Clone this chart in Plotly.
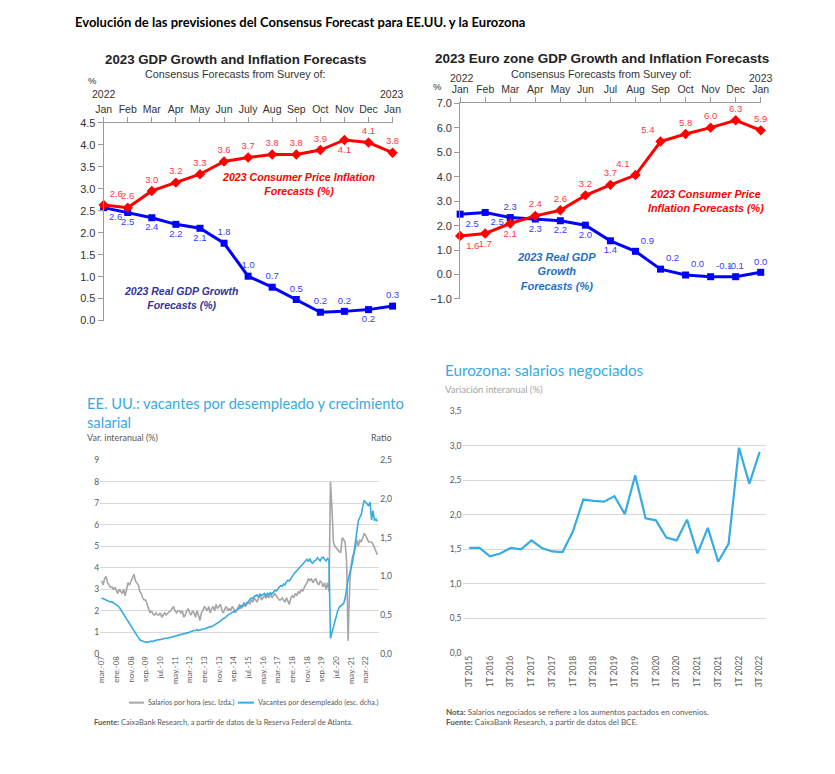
import plotly.graph_objects as go

W, H = 835, 774
# empirical correction of the screenshot geometry (rendered = A + B * figure coordinate)
AX, BX = 7.0, 0.980
AY, BY = 4.6, 0.987
def px(x): return ((x - AX) / BX) / W
def py(y): return 1 - ((y - AY) / BY) / H

# ---------------- Panel 1: US Consensus forecasts ----------------
months = ["Jan", "Feb", "Mar", "Apr", "May", "Jun", "July", "Aug", "Sep", "Oct", "Nov", "Dec", "Jan"]
us_cpi = [2.63, 2.57, 2.95, 3.14, 3.33, 3.62, 3.71, 3.78, 3.78, 3.88, 4.11, 4.05, 3.82]
us_cpi_lbl = ["2.6", "2.6", "3.0", "3.2", "3.3", "3.6", "3.7", "3.8", "3.8", "3.9", "4.1", "4.1", "3.8"]
us_gdp = [2.57, 2.46, 2.34, 2.19, 2.10, 1.76, 1.01, 0.76, 0.48, 0.19, 0.21, 0.25, 0.33]
us_gdp_lbl = ["2.6", "2.5", "2.4", "2.2", "2.1", "1.8", "1.0", "0.7", "0.5", "0.2", "0.2", "0.2", "0.3"]

# ---------------- Panel 2: Euro zone Consensus forecasts ----------------
months_ez = ["Jan", "Feb", "Mar", "Apr", "May", "Jun", "Jul", "Aug", "Sep", "Oct", "Nov", "Dec", "Jan"]
ez_cpi = [1.58, 1.68, 2.09, 2.40, 2.63, 3.24, 3.67, 4.07, 5.44, 5.75, 6.01, 6.31, 5.90]
ez_cpi_lbl = ["1.6", "1.7", "2.1", "2.4", "2.6", "3.2", "3.7", "4.1", "5.4", "5.8", "6.0", "6.3", "5.9"]
ez_gdp = [2.47, 2.54, 2.33, 2.27, 2.20, 2.02, 1.38, 0.95, 0.22, -0.02, -0.09, -0.09, 0.09]
ez_gdp_lbl = ["2.5", "2.5", "2.3", "2.3", "2.2", "2.0", "1.4", "0.9", "0.2", "0.0", "-0.1", "-0.1", "0.0"]

# ---------------- Panel 3: US wages vs vacancies (monthly, mar-07 .. nov-22) ----------------
wages = [
    3.4, 3.2, 3.5, 3.6, 3.3, 3.2, 3.1, 3.1, 3.0, 3.1,
    2.9, 2.8, 3.0, 2.9, 2.8, 3.0, 2.7, 3.0, 3.3, 3.2,
    3.4, 3.6, 3.7, 3.4, 3.3, 3.2, 2.9, 2.8, 2.6, 2.5,
    2.5, 2.3, 2.0, 1.9, 2.0, 1.85, 1.8, 1.9, 1.8, 1.8,
    1.9, 1.7, 1.8, 1.9, 1.8, 1.9, 1.95, 2.0, 2.1, 2.2,
    2.0, 1.9, 2.0, 2.0, 1.9, 2.0, 1.7, 1.8, 2.0, 2.1,
    1.9, 1.8, 2.0, 1.9, 1.7, 2.0, 1.8, 1.55, 1.9, 2.0,
    2.2, 2.1, 2.0, 2.2, 1.9, 2.1, 2.2, 2.0, 2.3, 2.1,
    2.2, 2.3, 2.0, 1.9, 2.1, 2.2, 2.0, 2.1, 2.0, 2.2,
    2.1, 1.9, 2.0, 2.2, 2.3, 2.1, 2.2, 2.4, 2.2, 2.3,
    2.4, 2.3, 2.5, 2.4, 2.6, 2.5, 2.4, 2.6, 2.7, 2.5,
    2.6, 2.7, 2.6, 2.7, 2.6, 2.8, 2.6, 2.7, 2.8, 2.7,
    2.6, 2.5, 2.5, 2.6, 2.5, 2.4, 2.6, 2.4, 2.3, 2.6,
    2.7, 2.6, 2.8, 2.7, 2.9, 2.8, 3.0, 2.9, 3.1, 3.2,
    3.3, 3.5, 3.4, 3.5, 3.3, 3.4, 3.5, 3.3, 3.2, 3.4,
    3.3, 3.1, 3.3, 3.0, 3.3, 2.9,
    8.0, 6.8, 5.2, 5.0, 4.9, 4.8, 4.75, 4.7, 5.4, 5.3,
    5.2, 4.3, 0.6, 3.0, 4.1, 4.5, 4.7, 4.9, 5.3, 5.0,
    5.3, 5.2, 5.4, 5.6, 5.5, 5.3, 5.2, 5.2, 5.2, 5.1,
    4.9, 4.8, 4.6,
]
vacancies = [
    0.72, 0.71, 0.70, 0.69, 0.68, 0.68, 0.67, 0.67, 0.66, 0.65,
    0.64, 0.62, 0.60, 0.57, 0.54, 0.51, 0.47, 0.44, 0.41, 0.38,
    0.35, 0.32, 0.29, 0.26, 0.23, 0.20, 0.18, 0.17, 0.16, 0.15,
    0.15, 0.15, 0.15, 0.16, 0.16, 0.16, 0.17, 0.17, 0.18, 0.18,
    0.18, 0.19, 0.19, 0.20, 0.20, 0.20, 0.21, 0.21, 0.22, 0.22,
    0.23, 0.23, 0.24, 0.24, 0.25, 0.25, 0.26, 0.26, 0.27, 0.27,
    0.28, 0.29, 0.30, 0.30, 0.30, 0.31, 0.30, 0.31, 0.32, 0.32,
    0.32, 0.33, 0.33, 0.34, 0.35, 0.35, 0.36, 0.37, 0.38, 0.40,
    0.41, 0.42, 0.44, 0.45, 0.47, 0.48, 0.50, 0.51, 0.52, 0.53,
    0.54, 0.55, 0.56, 0.57, 0.59, 0.62, 0.61, 0.64, 0.63, 0.66,
    0.67, 0.70, 0.72, 0.71, 0.74, 0.75, 0.76, 0.73, 0.77, 0.75,
    0.77, 0.78, 0.75, 0.78, 0.76, 0.79, 0.77, 0.80, 0.82, 0.81,
    0.84, 0.86, 0.88, 0.87, 0.90, 0.89, 0.93, 0.95, 0.94, 0.98,
    1.00, 1.03, 1.05, 1.08, 1.10, 1.12, 1.14, 1.16, 1.18, 1.20,
    1.22, 1.19, 1.23, 1.18, 1.17, 1.20, 1.21, 1.24, 1.22, 1.20,
    1.24, 1.25, 1.22, 1.20, 1.23, 1.21,
    0.20, 0.27, 0.35, 0.43, 0.50, 0.56, 0.60, 0.62, 0.63, 0.65,
    0.72, 0.85, 0.95, 1.03, 1.10, 1.18, 1.30, 1.45, 1.58, 1.72,
    1.76, 1.80, 1.90, 1.98, 1.96, 1.93, 1.91, 1.96, 1.73, 1.85,
    1.72, 1.74, 1.71,
]
us_tick_labels = ["mar.-07", "ene.-08", "nov.-08", "sep.-09", "jul.-10", "may.-11", "mar.-12",
                  "ene.-13", "nov.-13", "sep.-14", "jul.-15", "may.-16", "mar.-17", "ene.-18",
                  "nov.-18", "sep.-19", "jul.-20", "may.-21", "mar.-22"]
us_series_names = ["Salarios por hora (esc. Izda.)", "Vacantes por desempleado (esc. dcha.)"]

# ---------------- Panel 4: Euro zone negotiated wages (quarterly) ----------------
quarters = ["3T 2015", "4T 2015", "1T 2016", "2T 2016", "3T 2016", "4T 2016", "1T 2017", "2T 2017",
            "3T 2017", "4T 2017", "1T 2018", "2T 2018", "3T 2018", "4T 2018", "1T 2019", "2T 2019",
            "3T 2019", "4T 2019", "1T 2020", "2T 2020", "3T 2020", "4T 2020", "1T 2021", "2T 2021",
            "3T 2021", "4T 2021", "1T 2022", "2T 2022", "3T 2022"]
ez_wages = [1.52, 1.52, 1.40, 1.44, 1.52, 1.50, 1.63, 1.52, 1.47, 1.46, 1.76, 2.22, 2.20, 2.19,
            2.27, 2.01, 2.57, 1.95, 1.92, 1.67, 1.63, 1.93, 1.44, 1.81, 1.32, 1.58, 2.97, 2.45, 2.91]

ARIAL = "Liberation Sans"
CAL = "Lato"
RED = "#ff0000"
BLUE = "#0000ff"
LBLUE = "#36abe4"
GRAY = "#a6a6a6"

fig = go.Figure()

# ---- panel 1 traces
us_cpi_pos = ["top right"] + ["top center"] * 9 + ["bottom center", "top center", "top center"]
us_gdp_pos = ["bottom right", "bottom center", "bottom center", "bottom center", "bottom center",
              "top center", "top center", "top center", "top center", "top center", "top center",
              "bottom center", "top center"]
fig.add_trace(go.Scatter(x=list(range(13)), y=us_gdp, mode="lines+markers+text", text=us_gdp_lbl,
                         textposition=us_gdp_pos, textfont=dict(family=ARIAL, size=9.5, color="#3a3aff"),
                         line=dict(color=BLUE, width=3), marker=dict(symbol="square", size=7, color=BLUE),
                         cliponaxis=False, showlegend=False, xaxis="x", yaxis="y"))
fig.add_trace(go.Scatter(x=list(range(13)), y=us_cpi, mode="lines+markers+text", text=us_cpi_lbl,
                         textposition=us_cpi_pos, textfont=dict(family=ARIAL, size=9.5, color="#ff3a3a"),
                         line=dict(color=RED, width=3), marker=dict(symbol="diamond", size=8, color=RED),
                         cliponaxis=False, showlegend=False, xaxis="x", yaxis="y"))

# ---- panel 2 traces
ez_cpi_pos = ["bottom right", "bottom center", "bottom center", "top center", "top center", "top center",
              "top center", "top left", "top left", "top center", "top center", "top center", "top center"]
ez_gdp_pos = ["bottom right", "bottom right", "top center", "bottom center", "bottom center", "bottom center",
              "bottom center", "top right", "top right", "top right", "top right", "top center", "top center"]
fig.add_trace(go.Scatter(x=list(range(13)), y=ez_gdp, mode="lines+markers+text", text=ez_gdp_lbl,
                         textposition=ez_gdp_pos, textfont=dict(family=ARIAL, size=9.5, color="#3a3aff"),
                         line=dict(color=BLUE, width=3), marker=dict(symbol="square", size=7, color=BLUE),
                         cliponaxis=False, showlegend=False, xaxis="x2", yaxis="y2"))
fig.add_trace(go.Scatter(x=list(range(13)), y=ez_cpi, mode="lines+markers+text", text=ez_cpi_lbl,
                         textposition=ez_cpi_pos, textfont=dict(family=ARIAL, size=9.5, color="#ff3a3a"),
                         line=dict(color=RED, width=3), marker=dict(symbol="diamond", size=8, color=RED),
                         cliponaxis=False, showlegend=False, xaxis="x2", yaxis="y2"))

# ---- panel 3 traces
fig.add_trace(go.Scatter(x=list(range(len(wages))), y=wages, mode="lines", name=us_series_names[0],
                         line=dict(color=GRAY, width=1.6), showlegend=False, xaxis="x3", yaxis="y3"))
fig.add_trace(go.Scatter(x=list(range(len(vacancies))), y=vacancies, mode="lines", name=us_series_names[1],
                         line=dict(color=LBLUE, width=1.6), showlegend=False, xaxis="x3", yaxis="y4"))

# ---- panel 4 trace
fig.add_trace(go.Scatter(x=list(range(len(ez_wages))), y=ez_wages, mode="lines",
                         line=dict(color=LBLUE, width=2.2), showlegend=False, xaxis="x4", yaxis="y5"))

top_axis = dict(side="top", showline=True, linecolor="#9a9a9a", linewidth=1, ticks="outside",
                ticklen=5, tickcolor="#9a9a9a", showgrid=False, zeroline=False,
                tickfont=dict(family=ARIAL, size=10.5, color="#333333"), tickvals=list(range(13)),
                range=[0, 12])
left_axis = dict(showline=True, linecolor="#9a9a9a", linewidth=1, ticks="outside", ticklen=5,
                 tickcolor="#9a9a9a", showgrid=False, zeroline=False, tickformat=".1f",
                 tickfont=dict(family=ARIAL, size=11, color="#333333"))

fig.update_layout(
    width=W, height=H, margin=dict(l=0, r=0, t=0, b=0),
    paper_bgcolor="white", plot_bgcolor="white", showlegend=False,
    xaxis=dict(top_axis, domain=[px(102.7), px(391.7)], ticktext=months, anchor="y"),
    yaxis=dict(left_axis, domain=[py(320), py(121.7)], range=[0, 4.5], dtick=0.5, anchor="x"),
    xaxis2=dict(top_axis, domain=[px(459.3), px(760)], ticktext=months_ez, anchor="y2"),
    yaxis2=dict(left_axis, domain=[py(298.3), py(102.3)], range=[-1, 7], dtick=1, anchor="x2"),
    xaxis3=dict(domain=[px(99.3), px(378.3)], range=[-0.95, 189.2], anchor="y3",
                tickvals=list(range(0, 181, 10)), ticktext=us_tick_labels, tickangle=-90,
                tickfont=dict(family=CAL, size=7.8, color="#595959"), showgrid=False,
                zeroline=False, showline=False, ticks=""),
    yaxis3=dict(domain=[py(654), py(460)], range=[0, 9], anchor="x3", tickvals=list(range(10)),
                tickfont=dict(family=CAL, size=8.5, color="#595959"), showgrid=True,
                gridcolor="#d9d9d9", gridwidth=1, zeroline=False, showline=False, ticks=""),
    yaxis4=dict(overlaying="y3", side="right", range=[0, 2.5], anchor="x3",
                tickvals=[0, 0.5, 1.0, 1.5, 2.0, 2.5], ticktext=["0,0", "0,5", "1,0", "1,5", "2,0", "2,5"],
                tickfont=dict(family=CAL, size=8.5, color="#595959"), showgrid=False, zeroline=False,
                showline=False, ticks=""),
    xaxis4=dict(domain=[px(461.7), px(765)], range=[-0.64, 28.58], anchor="y5",
                tickvals=list(range(0, 29, 2)), ticktext=quarters[0::2], tickangle=-90,
                tickfont=dict(family=CAL, size=8.5, color="#595959"), showgrid=False,
                zeroline=False, showline=False, ticks=""),
    yaxis5=dict(domain=[py(653.3), py(410.7)], range=[0, 3.5], anchor="x4",
                tickvals=[0, 0.5, 1.0, 1.5, 2.0, 2.5, 3.0, 3.5],
                ticktext=["0,0", "0,5", "1,0", "1,5", "2,0", "2,5", "3,0", "3,5"],
                tickfont=dict(family=CAL, size=8.5, color="#595959"), showgrid=True,
                gridcolor="#d9d9d9", gridwidth=1, zeroline=False, showline=False, ticks=""),
)

def ann(x, y, text, size, color="#333333", family=ARIAL, xanchor="center", yanchor="middle", align="center"):
    fig.add_annotation(x=px(x), y=py(y), xref="paper", yref="paper", text=text, showarrow=False,
                       font=dict(family=family, size=size, color=color), xanchor=xanchor,
                       yanchor=yanchor, align=align)

# overall title
ann(72, 21, "<b>Evolución de las previsiones del Consensus Forecast para EE.UU. y la Eurozona</b>", 13,
    color="#000000", family=CAL, xanchor="left")

# panel 1 texts
ann(235, 58.5, "<b>2023 GDP Growth and Inflation Forecasts</b>", 13.3, color="#222222")
ann(235, 72.5, "Consensus Forecasts from Survey of:", 10.8, color="#333333")
ann(91.5, 79, "%", 9.5)
ann(103, 92.5, "2022", 10.5)
ann(391, 92.5, "2023", 10.5)
ann(298, 183, "<b><i>2023 Consumer Price Inflation<br>Forecasts (%)</i></b>", 10.6, color=RED)
ann(180, 297.5, "<b><i>2023 Real GDP Growth<br>Forecasts (%)</i></b>", 10.5, color="#333399")

# panel 2 texts
ann(601, 57.5, "<b>2023 Euro zone GDP Growth and Inflation Forecasts</b>", 13.5, color="#222222")
ann(601, 72.5, "Consensus Forecasts from Survey of:", 10.8, color="#333333")
ann(437, 85, "%", 9.5)
ann(461, 77, "2022", 10.5)
ann(760, 77, "2023", 10.5)
ann(705, 200, "<b><i>2023 Consumer Price<br>Inflation Forecasts (%)</i></b>", 10.8, color=RED)
ann(556, 271, "<b><i>2023 Real GDP<br>Growth<br>Forecasts (%)</i></b>", 11, color="#1f6fc2")

# panel 3 texts
ann(84, 412.5, "EE. UU.: vacantes por desempleado y crecimiento<br>salarial", 14.7, color=LBLUE,
    family=CAL, xanchor="left", align="left")
ann(84, 437.5, "Var. interanual (%)", 9, color="#595959", family=CAL, xanchor="left")
ann(393, 437.5, "Ratio", 9, color="#595959", family=CAL, xanchor="right")
# legend (keys drawn in paper space)
for (x0, x1, tx), col, name in zip([(128, 143, 145), (237, 253, 255)], [GRAY, LBLUE], us_series_names):
    fig.add_shape(type="line", xref="paper", yref="paper", x0=px(x0), x1=px(x1), y0=py(703), y1=py(703),
                  line=dict(color=col, width=2))
    ann(tx, 703, name, 7.2, color="#595959", family=CAL, xanchor="left")
ann(91, 723, "<b>Fuente:</b> CaixaBank Research, a partir de datos de la Reserva Federal de Atlanta.", 7.5,
    color="#595959", family=CAL, xanchor="left")

# panel 4 texts
ann(442, 370, "Eurozona: salarios negociados", 15.2, color=LBLUE, family=CAL, xanchor="left")
ann(442, 389, "Variación interanual (%)", 9.5, color="#a6a6a6", family=CAL, xanchor="left")
ann(443, 712, "<b>Nota:</b> Salarios negociados se refiere a los aumentos pactados en convenios.", 8,
    color="#595959", family=CAL, xanchor="left")
ann(443, 722, "<b>Fuente:</b> CaixaBank Research, a partir de datos del BCE.", 8,
    color="#595959", family=CAL, xanchor="left")

fig.write_html(
    "out.html",
    config={"displayModeBar": False},
    post_script=("document.body.style.margin='0px';document.body.style.padding='0px';"
                 "document.body.style.overflow='hidden';"
                 "document.documentElement.style.overflow='hidden';"),
)
